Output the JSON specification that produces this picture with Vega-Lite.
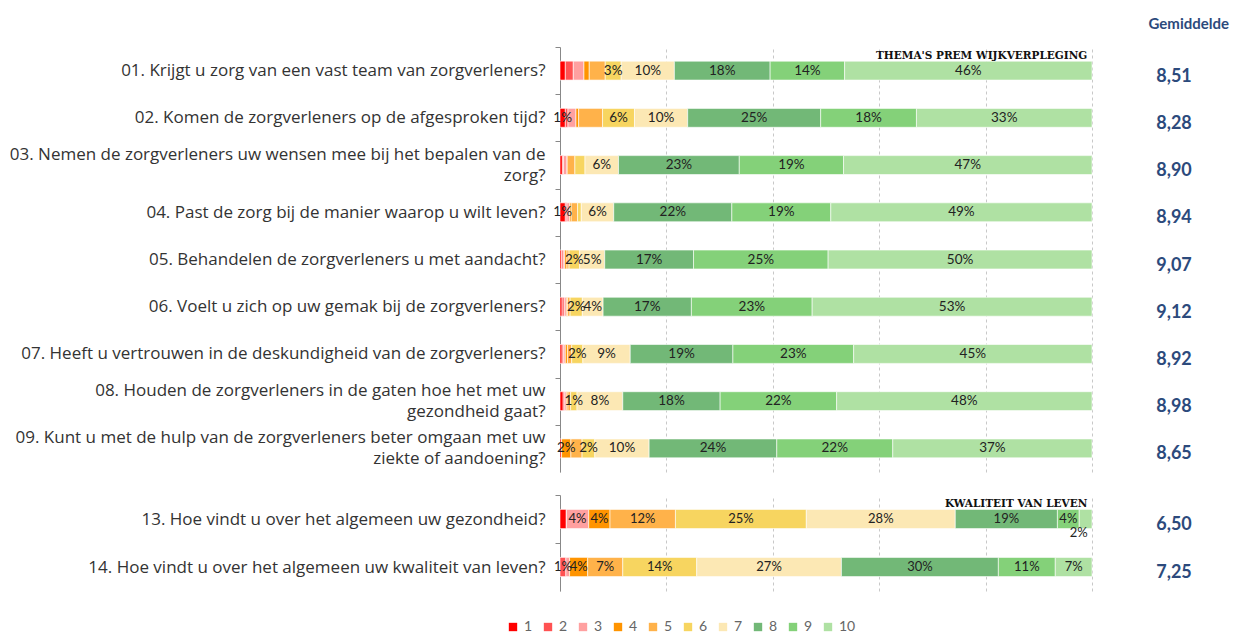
{
  "$schema": "https://vega.github.io/schema/vega-lite/v6.json",
  "background": "white",
  "padding": {"left": 8, "top": 17, "right": 5, "bottom": 5},
  "config": {"view": {"stroke": null}, "font": "Lato"},
  "datasets": {
    "bars": [
      {"q": "01. Krijgt u zorg van een vast team van zorgverleners?", "grp": "top", "score": 1, "pct": 1, "lbl": ""},
      {"q": "01. Krijgt u zorg van een vast team van zorgverleners?", "grp": "top", "score": 2, "pct": 1.5, "lbl": ""},
      {"q": "01. Krijgt u zorg van een vast team van zorgverleners?", "grp": "top", "score": 3, "pct": 2, "lbl": ""},
      {"q": "01. Krijgt u zorg van een vast team van zorgverleners?", "grp": "top", "score": 4, "pct": 1, "lbl": ""},
      {"q": "01. Krijgt u zorg van een vast team van zorgverleners?", "grp": "top", "score": 5, "pct": 3, "lbl": ""},
      {"q": "01. Krijgt u zorg van een vast team van zorgverleners?", "grp": "top", "score": 6, "pct": 3, "lbl": "3%"},
      {"q": "01. Krijgt u zorg van een vast team van zorgverleners?", "grp": "top", "score": 7, "pct": 10, "lbl": "10%"},
      {"q": "01. Krijgt u zorg van een vast team van zorgverleners?", "grp": "top", "score": 8, "pct": 18, "lbl": "18%"},
      {"q": "01. Krijgt u zorg van een vast team van zorgverleners?", "grp": "top", "score": 9, "pct": 14, "lbl": "14%"},
      {"q": "01. Krijgt u zorg van een vast team van zorgverleners?", "grp": "top", "score": 10, "pct": 46.5, "lbl": "46%"},
      {"q": "02. Komen de zorgverleners op de afgesproken tijd?", "grp": "top", "score": 1, "pct": 1, "lbl": "1%"},
      {"q": "02. Komen de zorgverleners op de afgesproken tijd?", "grp": "top", "score": 2, "pct": 0.5, "lbl": ""},
      {"q": "02. Komen de zorgverleners op de afgesproken tijd?", "grp": "top", "score": 3, "pct": 1.5, "lbl": ""},
      {"q": "02. Komen de zorgverleners op de afgesproken tijd?", "grp": "top", "score": 4, "pct": 0.5, "lbl": ""},
      {"q": "02. Komen de zorgverleners op de afgesproken tijd?", "grp": "top", "score": 5, "pct": 4.5, "lbl": ""},
      {"q": "02. Komen de zorgverleners op de afgesproken tijd?", "grp": "top", "score": 6, "pct": 6, "lbl": "6%"},
      {"q": "02. Komen de zorgverleners op de afgesproken tijd?", "grp": "top", "score": 7, "pct": 10, "lbl": "10%"},
      {"q": "02. Komen de zorgverleners op de afgesproken tijd?", "grp": "top", "score": 8, "pct": 25, "lbl": "25%"},
      {"q": "02. Komen de zorgverleners op de afgesproken tijd?", "grp": "top", "score": 9, "pct": 18, "lbl": "18%"},
      {"q": "02. Komen de zorgverleners op de afgesproken tijd?", "grp": "top", "score": 10, "pct": 33, "lbl": "33%"},
      {"q": "03. Nemen de zorgverleners uw wensen mee bij het bepalen van de\nzorg?", "grp": "top", "score": 1, "pct": 0.45, "lbl": ""},
      {"q": "03. Nemen de zorgverleners uw wensen mee bij het bepalen van de\nzorg?", "grp": "top", "score": 2, "pct": 0.2, "lbl": ""},
      {"q": "03. Nemen de zorgverleners uw wensen mee bij het bepalen van de\nzorg?", "grp": "top", "score": 3, "pct": 0.7, "lbl": ""},
      {"q": "03. Nemen de zorgverleners uw wensen mee bij het bepalen van de\nzorg?", "grp": "top", "score": 4, "pct": 0, "lbl": ""},
      {"q": "03. Nemen de zorgverleners uw wensen mee bij het bepalen van de\nzorg?", "grp": "top", "score": 5, "pct": 1.45, "lbl": ""},
      {"q": "03. Nemen de zorgverleners uw wensen mee bij het bepalen van de\nzorg?", "grp": "top", "score": 6, "pct": 1.9, "lbl": ""},
      {"q": "03. Nemen de zorgverleners uw wensen mee bij het bepalen van de\nzorg?", "grp": "top", "score": 7, "pct": 6.3, "lbl": "6%"},
      {"q": "03. Nemen de zorgverleners uw wensen mee bij het bepalen van de\nzorg?", "grp": "top", "score": 8, "pct": 22.7, "lbl": "23%"},
      {"q": "03. Nemen de zorgverleners uw wensen mee bij het bepalen van de\nzorg?", "grp": "top", "score": 9, "pct": 19.6, "lbl": "19%"},
      {"q": "03. Nemen de zorgverleners uw wensen mee bij het bepalen van de\nzorg?", "grp": "top", "score": 10, "pct": 46.7, "lbl": "47%"},
      {"q": "04. Past de zorg bij de manier waarop u wilt leven?", "grp": "top", "score": 1, "pct": 1, "lbl": "1%"},
      {"q": "04. Past de zorg bij de manier waarop u wilt leven?", "grp": "top", "score": 2, "pct": 0.3, "lbl": ""},
      {"q": "04. Past de zorg bij de manier waarop u wilt leven?", "grp": "top", "score": 3, "pct": 0.5, "lbl": ""},
      {"q": "04. Past de zorg bij de manier waarop u wilt leven?", "grp": "top", "score": 4, "pct": 0.3, "lbl": ""},
      {"q": "04. Past de zorg bij de manier waarop u wilt leven?", "grp": "top", "score": 5, "pct": 1.2, "lbl": ""},
      {"q": "04. Past de zorg bij de manier waarop u wilt leven?", "grp": "top", "score": 6, "pct": 0.7, "lbl": ""},
      {"q": "04. Past de zorg bij de manier waarop u wilt leven?", "grp": "top", "score": 7, "pct": 6.1, "lbl": "6%"},
      {"q": "04. Past de zorg bij de manier waarop u wilt leven?", "grp": "top", "score": 8, "pct": 22.2, "lbl": "22%"},
      {"q": "04. Past de zorg bij de manier waarop u wilt leven?", "grp": "top", "score": 9, "pct": 18.6, "lbl": "19%"},
      {"q": "04. Past de zorg bij de manier waarop u wilt leven?", "grp": "top", "score": 10, "pct": 49.1, "lbl": "49%"},
      {"q": "05. Behandelen de zorgverleners u met aandacht?", "grp": "top", "score": 1, "pct": 0.3, "lbl": ""},
      {"q": "05. Behandelen de zorgverleners u met aandacht?", "grp": "top", "score": 2, "pct": 0.3, "lbl": ""},
      {"q": "05. Behandelen de zorgverleners u met aandacht?", "grp": "top", "score": 3, "pct": 0.3, "lbl": ""},
      {"q": "05. Behandelen de zorgverleners u met aandacht?", "grp": "top", "score": 4, "pct": 0.4, "lbl": ""},
      {"q": "05. Behandelen de zorgverleners u met aandacht?", "grp": "top", "score": 5, "pct": 0.4, "lbl": ""},
      {"q": "05. Behandelen de zorgverleners u met aandacht?", "grp": "top", "score": 6, "pct": 2, "lbl": "2%"},
      {"q": "05. Behandelen de zorgverleners u met aandacht?", "grp": "top", "score": 7, "pct": 4.7, "lbl": "5%"},
      {"q": "05. Behandelen de zorgverleners u met aandacht?", "grp": "top", "score": 8, "pct": 16.7, "lbl": "17%"},
      {"q": "05. Behandelen de zorgverleners u met aandacht?", "grp": "top", "score": 9, "pct": 25.3, "lbl": "25%"},
      {"q": "05. Behandelen de zorgverleners u met aandacht?", "grp": "top", "score": 10, "pct": 49.6, "lbl": "50%"},
      {"q": "06. Voelt u zich op uw gemak bij de zorgverleners?", "grp": "top", "score": 1, "pct": 0.4, "lbl": ""},
      {"q": "06. Voelt u zich op uw gemak bij de zorgverleners?", "grp": "top", "score": 2, "pct": 0.4, "lbl": ""},
      {"q": "06. Voelt u zich op uw gemak bij de zorgverleners?", "grp": "top", "score": 3, "pct": 0.4, "lbl": ""},
      {"q": "06. Voelt u zich op uw gemak bij de zorgverleners?", "grp": "top", "score": 4, "pct": 0.2, "lbl": ""},
      {"q": "06. Voelt u zich op uw gemak bij de zorgverleners?", "grp": "top", "score": 5, "pct": 0.5, "lbl": ""},
      {"q": "06. Voelt u zich op uw gemak bij de zorgverleners?", "grp": "top", "score": 6, "pct": 2.3, "lbl": "2%"},
      {"q": "06. Voelt u zich op uw gemak bij de zorgverleners?", "grp": "top", "score": 7, "pct": 3.9, "lbl": "4%"},
      {"q": "06. Voelt u zich op uw gemak bij de zorgverleners?", "grp": "top", "score": 8, "pct": 16.6, "lbl": "17%"},
      {"q": "06. Voelt u zich op uw gemak bij de zorgverleners?", "grp": "top", "score": 9, "pct": 22.7, "lbl": "23%"},
      {"q": "06. Voelt u zich op uw gemak bij de zorgverleners?", "grp": "top", "score": 10, "pct": 52.6, "lbl": "53%"},
      {"q": "07. Heeft u vertrouwen in de deskundigheid van de zorgverleners?", "grp": "top", "score": 1, "pct": 0.4, "lbl": ""},
      {"q": "07. Heeft u vertrouwen in de deskundigheid van de zorgverleners?", "grp": "top", "score": 2, "pct": 0.3, "lbl": ""},
      {"q": "07. Heeft u vertrouwen in de deskundigheid van de zorgverleners?", "grp": "top", "score": 3, "pct": 0.3, "lbl": ""},
      {"q": "07. Heeft u vertrouwen in de deskundigheid van de zorgverleners?", "grp": "top", "score": 4, "pct": 0.4, "lbl": ""},
      {"q": "07. Heeft u vertrouwen in de deskundigheid van de zorgverleners?", "grp": "top", "score": 5, "pct": 0.8, "lbl": ""},
      {"q": "07. Heeft u vertrouwen in de deskundigheid van de zorgverleners?", "grp": "top", "score": 6, "pct": 2.1, "lbl": "2%"},
      {"q": "07. Heeft u vertrouwen in de deskundigheid van de zorgverleners?", "grp": "top", "score": 7, "pct": 8.9, "lbl": "9%"},
      {"q": "07. Heeft u vertrouwen in de deskundigheid van de zorgverleners?", "grp": "top", "score": 8, "pct": 19.3, "lbl": "19%"},
      {"q": "07. Heeft u vertrouwen in de deskundigheid van de zorgverleners?", "grp": "top", "score": 9, "pct": 22.7, "lbl": "23%"},
      {"q": "07. Heeft u vertrouwen in de deskundigheid van de zorgverleners?", "grp": "top", "score": 10, "pct": 44.8, "lbl": "45%"},
      {"q": "08. Houden de zorgverleners in de gaten hoe het met uw\ngezondheid gaat?", "grp": "top", "score": 1, "pct": 0.6, "lbl": ""},
      {"q": "08. Houden de zorgverleners in de gaten hoe het met uw\ngezondheid gaat?", "grp": "top", "score": 2, "pct": 0.3, "lbl": ""},
      {"q": "08. Houden de zorgverleners in de gaten hoe het met uw\ngezondheid gaat?", "grp": "top", "score": 3, "pct": 0.3, "lbl": ""},
      {"q": "08. Houden de zorgverleners in de gaten hoe het met uw\ngezondheid gaat?", "grp": "top", "score": 4, "pct": 0.3, "lbl": ""},
      {"q": "08. Houden de zorgverleners in de gaten hoe het met uw\ngezondheid gaat?", "grp": "top", "score": 5, "pct": 0.5, "lbl": ""},
      {"q": "08. Houden de zorgverleners in de gaten hoe het met uw\ngezondheid gaat?", "grp": "top", "score": 6, "pct": 1.2, "lbl": "1%"},
      {"q": "08. Houden de zorgverleners in de gaten hoe het met uw\ngezondheid gaat?", "grp": "top", "score": 7, "pct": 8.6, "lbl": "8%"},
      {"q": "08. Houden de zorgverleners in de gaten hoe het met uw\ngezondheid gaat?", "grp": "top", "score": 8, "pct": 18.3, "lbl": "18%"},
      {"q": "08. Houden de zorgverleners in de gaten hoe het met uw\ngezondheid gaat?", "grp": "top", "score": 9, "pct": 21.9, "lbl": "22%"},
      {"q": "08. Houden de zorgverleners in de gaten hoe het met uw\ngezondheid gaat?", "grp": "top", "score": 10, "pct": 48, "lbl": "48%"},
      {"q": "09. Kunt u met de hulp van de zorgverleners beter omgaan met uw\nziekte of aandoening?", "grp": "top", "score": 1, "pct": 0.3, "lbl": ""},
      {"q": "09. Kunt u met de hulp van de zorgverleners beter omgaan met uw\nziekte of aandoening?", "grp": "top", "score": 2, "pct": 0, "lbl": ""},
      {"q": "09. Kunt u met de hulp van de zorgverleners beter omgaan met uw\nziekte of aandoening?", "grp": "top", "score": 3, "pct": 0, "lbl": ""},
      {"q": "09. Kunt u met de hulp van de zorgverleners beter omgaan met uw\nziekte of aandoening?", "grp": "top", "score": 4, "pct": 1.75, "lbl": "2%"},
      {"q": "09. Kunt u met de hulp van de zorgverleners beter omgaan met uw\nziekte of aandoening?", "grp": "top", "score": 5, "pct": 2.1, "lbl": ""},
      {"q": "09. Kunt u met de hulp van de zorgverleners beter omgaan met uw\nziekte of aandoening?", "grp": "top", "score": 6, "pct": 2.4, "lbl": "2%"},
      {"q": "09. Kunt u met de hulp van de zorgverleners beter omgaan met uw\nziekte of aandoening?", "grp": "top", "score": 7, "pct": 10.2, "lbl": "10%"},
      {"q": "09. Kunt u met de hulp van de zorgverleners beter omgaan met uw\nziekte of aandoening?", "grp": "top", "score": 8, "pct": 24, "lbl": "24%"},
      {"q": "09. Kunt u met de hulp van de zorgverleners beter omgaan met uw\nziekte of aandoening?", "grp": "top", "score": 9, "pct": 21.8, "lbl": "22%"},
      {"q": "09. Kunt u met de hulp van de zorgverleners beter omgaan met uw\nziekte of aandoening?", "grp": "top", "score": 10, "pct": 37.45, "lbl": "37%"},
      {"q": "13. Hoe vindt u over het algemeen uw gezondheid?", "grp": "bottom", "score": 1, "pct": 1.2, "lbl": ""},
      {"q": "13. Hoe vindt u over het algemeen uw gezondheid?", "grp": "bottom", "score": 2, "pct": 0, "lbl": ""},
      {"q": "13. Hoe vindt u over het algemeen uw gezondheid?", "grp": "bottom", "score": 3, "pct": 4.2, "lbl": "4%"},
      {"q": "13. Hoe vindt u over het algemeen uw gezondheid?", "grp": "bottom", "score": 4, "pct": 4, "lbl": "4%"},
      {"q": "13. Hoe vindt u over het algemeen uw gezondheid?", "grp": "bottom", "score": 5, "pct": 12.3, "lbl": "12%"},
      {"q": "13. Hoe vindt u over het algemeen uw gezondheid?", "grp": "bottom", "score": 6, "pct": 24.6, "lbl": "25%"},
      {"q": "13. Hoe vindt u over het algemeen uw gezondheid?", "grp": "bottom", "score": 7, "pct": 28, "lbl": "28%"},
      {"q": "13. Hoe vindt u over het algemeen uw gezondheid?", "grp": "bottom", "score": 8, "pct": 19.2, "lbl": "19%"},
      {"q": "13. Hoe vindt u over het algemeen uw gezondheid?", "grp": "bottom", "score": 9, "pct": 4.1, "lbl": "4%"},
      {"q": "13. Hoe vindt u over het algemeen uw gezondheid?", "grp": "bottom", "score": 10, "pct": 2.4, "lbl": "2%"},
      {"q": "14. Hoe vindt u over het algemeen uw kwaliteit van leven?", "grp": "bottom", "score": 1, "pct": 0, "lbl": ""},
      {"q": "14. Hoe vindt u over het algemeen uw kwaliteit van leven?", "grp": "bottom", "score": 2, "pct": 1.1, "lbl": "1%"},
      {"q": "14. Hoe vindt u over het algemeen uw kwaliteit van leven?", "grp": "bottom", "score": 3, "pct": 0.7, "lbl": ""},
      {"q": "14. Hoe vindt u over het algemeen uw kwaliteit van leven?", "grp": "bottom", "score": 4, "pct": 3.4, "lbl": "4%"},
      {"q": "14. Hoe vindt u over het algemeen uw kwaliteit van leven?", "grp": "bottom", "score": 5, "pct": 6.6, "lbl": "7%"},
      {"q": "14. Hoe vindt u over het algemeen uw kwaliteit van leven?", "grp": "bottom", "score": 6, "pct": 13.9, "lbl": "14%"},
      {"q": "14. Hoe vindt u over het algemeen uw kwaliteit van leven?", "grp": "bottom", "score": 7, "pct": 27.2, "lbl": "27%"},
      {"q": "14. Hoe vindt u over het algemeen uw kwaliteit van leven?", "grp": "bottom", "score": 8, "pct": 29.5, "lbl": "30%"},
      {"q": "14. Hoe vindt u over het algemeen uw kwaliteit van leven?", "grp": "bottom", "score": 9, "pct": 10.7, "lbl": "11%"},
      {"q": "14. Hoe vindt u over het algemeen uw kwaliteit van leven?", "grp": "bottom", "score": 10, "pct": 6.9, "lbl": "7%"}
    ],
    "avg": [
      {"q": "01. Krijgt u zorg van een vast team van zorgverleners?", "grp": "top", "avg": "8,51"},
      {"q": "02. Komen de zorgverleners op de afgesproken tijd?", "grp": "top", "avg": "8,28"},
      {"q": "03. Nemen de zorgverleners uw wensen mee bij het bepalen van de\nzorg?", "grp": "top", "avg": "8,90"},
      {"q": "04. Past de zorg bij de manier waarop u wilt leven?", "grp": "top", "avg": "8,94"},
      {"q": "05. Behandelen de zorgverleners u met aandacht?", "grp": "top", "avg": "9,07"},
      {"q": "06. Voelt u zich op uw gemak bij de zorgverleners?", "grp": "top", "avg": "9,12"},
      {"q": "07. Heeft u vertrouwen in de deskundigheid van de zorgverleners?", "grp": "top", "avg": "8,92"},
      {"q": "08. Houden de zorgverleners in de gaten hoe het met uw\ngezondheid gaat?", "grp": "top", "avg": "8,98"},
      {"q": "09. Kunt u met de hulp van de zorgverleners beter omgaan met uw\nziekte of aandoening?", "grp": "top", "avg": "8,65"},
      {"q": "13. Hoe vindt u over het algemeen uw gezondheid?", "grp": "bottom", "avg": "6,50"},
      {"q": "14. Hoe vindt u over het algemeen uw kwaliteit van leven?", "grp": "bottom", "avg": "7,25"}
    ]
  },
  "spacing": 22,
  "resolve": {"scale": {"color": "shared"}},
  "vconcat": [
    {
      "spacing": 26,
      "hconcat": [
        {
          "width": 532,
          "height": 425,
          "data": {"name": "bars"},
          "transform": [
            {"filter": "datum.grp == 'top'"},
            {"stack": "pct", "groupby": ["q"], "sort": [{"field": "score", "order": "ascending"}], "as": ["x0", "x1"]},
            {"calculate": "(datum.x0 + datum.x1) / 2", "as": "xm"}
          ],
          "title": {"text": "THEMA'S PREM WIJKVERPLEGING", "anchor": "end", "offset": -15, "dx": -5, "fontSize": 10.5, "fontWeight": "bold", "font": "DejaVu Serif", "color": "#111111"},
          "encoding": {
            "y": {
              "field": "q", "type": "nominal", "title": null,
              "scale": {"paddingInner": 0.6, "paddingOuter": 0.3},
              "axis": {"labelExpr": "split(datum.label, '\\n')", "labelLimit": 0, "labelFont": "Open Sans", "labelFontSize": 17, "labelColor": "#333333", "labelLineHeight": 21, "labelPadding": 10, "tickSize": 5, "tickColor": "#888888", "domainColor": "#888888", "tickOffset": -23.6,
                "labelOffset": {"condition": {"test": "indexof(datum.value, '\\n') >= 0", "value": 13.1}, "value": 23.6},
                "minExtent": 552, "maxExtent": 552}
            }
          },
          "layer": [
            {
              "mark": {"type": "bar", "stroke": "white", "strokeWidth": 0.6},
              "encoding": {
                "x": {"field": "x0", "type": "quantitative", "scale": {"domain": [0, 100]}, "axis": {"values": [0, 20, 40, 60, 80, 100], "labels": false, "ticks": false, "domain": false, "grid": true, "gridDash": [3, 3], "gridColor": "#c8c8c8", "title": null}},
                "x2": {"field": "x1"},
                "color": {"field": "score", "type": "ordinal", "title": null,
                  "scale": {"domain": [1, 2, 3, 4, 5, 6, 7, 8, 9, 10], "range": ["#ff0000", "#ff5252", "#ffa0a0", "#ff9400", "#ffb24a", "#f7d560", "#fce8b4", "#72b877", "#84d179", "#afe1a3"]},
                  "legend": {"orient": "none", "legendX": -54, "legendY": 573, "direction": "horizontal", "symbolType": "square", "symbolSize": 70, "symbolStrokeWidth": 0, "labelFontSize": 14, "labelColor": "#666666", "labelOffset": 4, "columnPadding": 8}
                }
              }
            },
            {
              "mark": {"type": "text", "fontSize": 13.5, "color": "#222222", "baseline": "middle"},
              "encoding": {"x": {"field": "xm", "type": "quantitative"}, "text": {"field": "lbl"}}
            }
          ]
        },
        {
          "width": 110,
          "height": 425,
          "data": {"name": "avg"},
          "transform": [{"filter": "datum.grp == 'top'"}],
          "title": {"text": "Gemiddelde", "anchor": "end", "offset": 15, "fontSize": 15, "fontWeight": "bold", "color": "#2c4a7c"},
          "mark": {"type": "text", "fontSize": 18, "fontWeight": "bold", "color": "#2c4a7c", "dy": 6},
          "encoding": {
            "y": {"field": "q", "type": "nominal", "axis": null, "scale": {"paddingInner": 0.6, "paddingOuter": 0.3}},
            "text": {"field": "avg"}
          }
        }
      ]
    },
    {
      "spacing": 26,
      "hconcat": [
        {
          "width": 532,
          "height": 96,
          "data": {"name": "bars"},
          "transform": [
            {"filter": "datum.grp == 'bottom'"},
            {"stack": "pct", "groupby": ["q"], "sort": [{"field": "score", "order": "ascending"}], "as": ["x0", "x1"]},
            {"calculate": "(datum.x0 + datum.x1) / 2", "as": "xm"}
          ],
          "title": {"text": "KWALITEIT VAN LEVEN", "anchor": "end", "offset": -15, "dx": -5, "fontSize": 10.5, "fontWeight": "bold", "font": "DejaVu Serif", "color": "#111111"},
          "encoding": {
            "y": {
              "field": "q", "type": "nominal", "title": null,
              "scale": {"paddingInner": 0.6, "paddingOuter": 0.3},
              "axis": {"labelLimit": 0, "labelFont": "Open Sans", "labelFontSize": 17, "labelColor": "#333333", "labelPadding": 10, "tickSize": 5, "tickColor": "#888888", "domainColor": "#888888", "tickOffset": -24, "labelOffset": 24, "minExtent": 552, "maxExtent": 552}
            }
          },
          "layer": [
            {
              "mark": {"type": "bar", "stroke": "white", "strokeWidth": 0.6},
              "encoding": {
                "x": {"field": "x0", "type": "quantitative", "scale": {"domain": [0, 100]}, "axis": {"values": [0, 20, 40, 60, 80, 100], "labels": false, "ticks": false, "domain": false, "grid": true, "gridDash": [3, 3], "gridColor": "#c8c8c8", "title": null}},
                "x2": {"field": "x1"},
                "color": {"field": "score", "type": "ordinal", "title": null}
              }
            },
            {
              "transform": [{"filter": "!(datum.score == 10 && indexof(datum.q, '13.') == 0)"}],
              "mark": {"type": "text", "fontSize": 13, "color": "#222222", "baseline": "middle"},
              "encoding": {"x": {"field": "xm", "type": "quantitative"}, "text": {"field": "lbl"}}
            },
            {
              "transform": [{"filter": "datum.score == 10 && indexof(datum.q, '13.') == 0"}],
              "mark": {"type": "text", "fontSize": 13, "color": "#222222", "baseline": "middle", "dy": 14, "dx": -7},
              "encoding": {"x": {"field": "xm", "type": "quantitative"}, "text": {"field": "lbl"}}
            }
          ]
        },
        {
          "width": 110,
          "height": 96,
          "data": {"name": "avg"},
          "transform": [{"filter": "datum.grp == 'bottom'"}],
          "mark": {"type": "text", "fontSize": 18, "fontWeight": "bold", "color": "#2c4a7c", "dy": 6},
          "encoding": {
            "y": {"field": "q", "type": "nominal", "axis": null, "scale": {"paddingInner": 0.6, "paddingOuter": 0.3}},
            "text": {"field": "avg"}
          }
        }
      ]
    }
  ]
}
